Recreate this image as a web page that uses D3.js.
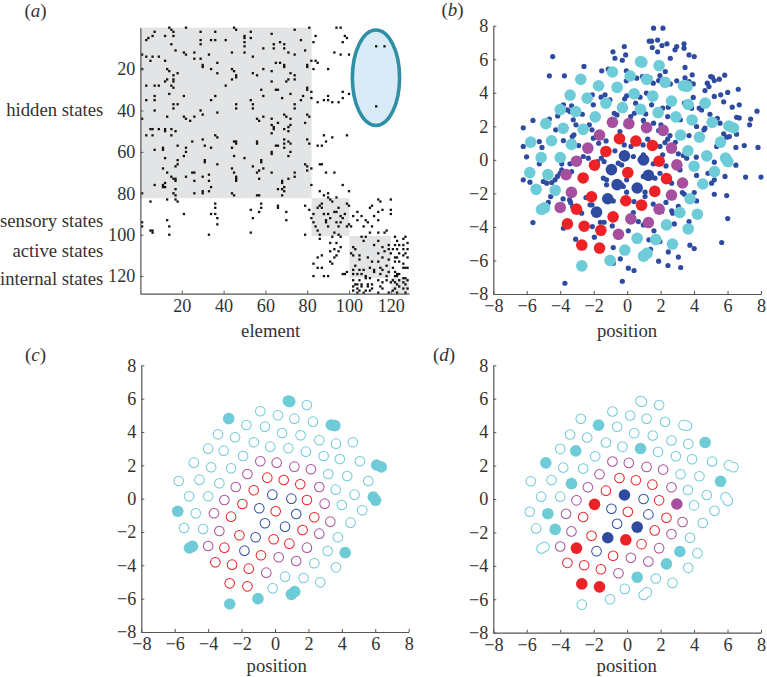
<!DOCTYPE html>
<html><head><meta charset="utf-8">
<script src="https://cdn.jsdelivr.net/npm/d3@7"></script>
<style>html,body{margin:0;padding:0;background:#fff}svg{display:block}text{font-family:"Liberation Serif",serif;fill:#333}</style>
</head><body><div id="c"></div>
<script>
const ticksA=[20,40,60,80,100,120];
const ticksP=[-8,-6,-4,-2,0,2,4,6,8];
const blockLabels=[["hidden states",110],["sensory states",221],["active states",251],["internal states",279.5]];
const blocks=[[0,82.1,0,82.4],[82.1,100.2,82.4,100.6],[100.2,120,100.6,120.8],[120,128.7,120.8,128.5]];
const ellipseBlanket={col:112.9,row:24.2,rc:11.3,rr:23.05};
const coupling=[[14,0],[22,0],[45,0],[46,1],[81,0],[94,0],[96,0],[7,2],[15,1],[16,2],[29,2],[36,2],[53,2],[74,1],[12,4],[16,4],[6,4],[4,5],[3,6],[50,4],[53,5],[50,5],[63,3],[84,4],[98,4],[99,5],[29,6],[34,6],[36,6],[41,6],[50,7],[67,7],[77,6],[83,7],[97,7],[15,8],[29,8],[64,8],[50,9],[69,8],[17,11],[44,12],[21,12],[22,13],[26,12],[29,15],[33,13],[50,12],[54,14],[59,10],[64,10],[69,10],[71,12],[74,13],[79,11],[93,12],[96,13],[100,13],[1,13],[3,14],[5,16],[6,14],[9,14],[12,16],[26,15],[30,18],[30,19],[37,17],[34,20],[37,22],[44,20],[45,21],[46,23],[46,24],[44,25],[41,28],[65,17],[67,17],[69,18],[69,19],[63,21],[59,20],[54,22],[56,23],[72,22],[74,23],[74,25],[71,25],[70,26],[63,26],[58,30],[65,30],[66,30],[59,33],[68,34],[72,32],[80,29],[80,30],[78,33],[77,35],[80,19],[80,18],[82,16],[84,16],[85,17],[83,20],[90,20],[1,20],[13,20],[14,21],[16,23],[18,22],[16,25],[13,25],[12,26],[16,26],[15,28],[16,29],[3,28],[7,28],[9,28],[14,32],[21,33],[3,35],[7,33],[7,35],[18,37],[16,37],[16,39],[7,40],[36,33],[34,35],[46,37],[46,39],[53,35],[54,37],[54,39],[74,37],[74,39],[82,31],[82,34],[85,36],[88,35],[90,33],[90,35],[92,36],[95,36],[97,31],[97,34],[100,32],[1,44],[13,43],[21,43],[22,44],[24,45],[26,43],[29,40],[30,42],[37,41],[56,44],[57,45],[59,43],[63,44],[69,42],[70,43],[72,44],[80,42],[81,43],[79,46],[66,46],[63,47],[64,48],[64,49],[72,47],[71,48],[71,50],[63,51],[69,49],[5,49],[6,49],[9,49],[12,49],[12,50],[15,49],[17,50],[3,52],[6,52],[15,52],[36,52],[37,53],[25,55],[30,54],[31,57],[34,58],[45,55],[46,55],[46,56],[44,58],[56,55],[56,56],[65,57],[66,57],[69,54],[69,56],[71,55],[69,58],[72,56],[80,54],[81,56],[88,52],[92,53],[99,52],[85,57],[87,57],[89,55],[7,59],[11,58],[11,59],[18,57],[22,58],[22,60],[21,62],[12,63],[63,60],[63,61],[72,60],[71,62],[45,62],[31,64],[31,65],[50,63],[58,64],[58,65],[54,67],[37,66],[18,64],[18,66],[17,67],[11,68],[13,70],[15,72],[16,73],[17,73],[17,74],[12,75],[11,76],[12,77],[11,77],[7,76],[17,78],[16,80],[17,81],[26,70],[25,70],[22,72],[26,74],[30,72],[33,71],[33,74],[44,68],[45,70],[46,72],[46,73],[46,74],[57,69],[56,70],[59,68],[57,73],[63,70],[74,70],[74,72],[71,73],[68,74],[68,75],[69,77],[68,78],[66,78],[69,79],[68,81],[80,67],[79,66],[82,68],[80,69],[26,80],[30,79],[30,80],[33,79],[34,77],[44,80],[45,81],[56,81],[57,81],[82,76],[86,66],[87,66],[89,70],[93,70],[97,76],[100,79],[86,79],[90,80],[88,81],[1,80],[5,84],[13,83],[17,83],[18,84],[21,90],[34,90],[36,85],[36,87],[36,90],[37,92],[37,95],[13,93],[14,96],[14,100],[6,98],[6,99],[5,98],[1,94],[1,96],[33,100],[53,88],[54,92],[53,99],[57,89],[58,87],[58,85],[66,86],[66,87],[70,89],[70,93],[79,86],[79,100],[81,88],[83,90],[82,92],[83,94],[84,96],[85,98],[86,100],[86,86],[85,87],[87,85],[87,87],[88,90],[89,93],[89,94],[91,83],[92,84],[93,89],[94,89],[90,90],[91,92],[94,94],[95,96],[90,96],[95,87],[96,91],[97,92],[96,94],[98,90],[99,85],[100,86],[94,82],[90,82],[99,96],[100,95],[101,96],[95,100],[93,99],[92,101],[96,101],[86,102],[91,104],[94,104],[93,107],[96,106],[95,108],[91,108],[94,110],[93,111],[91,113],[92,114],[87,110],[85,111],[83,114],[85,116],[87,116],[83,120],[88,120],[90,120],[97,119],[98,119],[99,118],[104,89],[102,91],[104,93],[106,91],[108,93],[110,87],[111,86],[114,83],[115,84],[114,89],[116,88],[112,91],[114,93],[120,83],[120,88],[120,90],[107,96],[109,94],[111,96],[118,98],[117,99],[114,99],[110,99],[102,106],[103,107],[101,109],[106,101],[108,101],[107,103],[112,105],[114,103],[102,110],[105,110],[105,112],[109,111],[111,113],[114,109],[116,106],[117,108],[116,111],[114,113],[119,105],[119,107],[120,109],[119,112],[118,115],[115,116],[112,117],[110,116],[107,117],[105,117],[103,115],[102,117],[102,119],[104,119],[106,119],[108,120],[112,118],[115,119],[116,117],[119,118],[122,101],[123,103],[124,105],[126,105],[127,101],[126,102],[128,104],[122,105],[123,107],[126,107],[128,107],[121,107],[124,109],[126,110],[127,109],[122,111],[123,111],[128,111],[122,113],[124,113],[126,114],[127,116],[128,116],[121,116],[122,118],[123,119],[124,119],[126,116],[122,120],[123,120],[121,122],[122,123],[124,122],[126,121],[127,121],[128,122],[126,123],[127,124],[123,124],[124,125],[122,126],[126,126],[128,126],[121,127],[123,128],[127,128],[102,122],[105,122],[108,121],[110,121],[114,122],[118,122],[116,123],[103,124],[104,124],[106,124],[109,124],[111,124],[102,125],[104,126],[106,125],[109,125],[111,126],[115,125],[116,126],[102,127],[104,128],[107,128],[110,127],[114,128],[119,128],[105,127],[108,127],[118,120],[120,123],[113,9],[117,9],[113,38]];
const hiddenStates=[[1.58,7.85],[2.14,7.85],[1.46,7.08],[1.82,7.14],[1.32,7.08],[2.08,6.82],[2.38,6.92],[1.50,6.70],[1.82,6.44],[2.96,6.76],[2.86,6.56],[3.40,6.92],[3.40,6.66],[3.70,6.26],[4.01,6.16],[2.58,6.06],[-0.17,6.76],[-0.85,6.44],[-0.09,6.26],[-0.73,6.06],[-0.29,5.94],[-4.45,6.16],[-2.58,5.57],[-4.65,5.01],[-3.75,5.01],[-1.52,5.31],[-1.13,5.41],[-0.05,5.31],[0.11,5.17],[3.46,5.51],[3.89,5.07],[2.28,5.27],[4.99,4.97],[5.09,4.93],[5.21,4.73],[5.51,4.81],[5.83,5.05],[4.79,4.57],[4.89,4.37],[4.65,4.13],[5.21,3.78],[5.59,3.88],[6.01,4.02],[6.64,4.21],[5.77,3.46],[6.28,3.14],[6.70,3.28],[7.76,2.90],[7.38,2.43],[7.32,2.09],[6.54,2.54],[6.70,2.50],[4.95,2.72],[5.39,2.48],[5.15,2.29],[5.55,2.19],[4.65,1.89],[4.59,1.79],[-6.21,1.91],[-5.63,2.35],[-4.65,2.43],[-4.27,1.79],[-4.15,2.62],[-3.81,3.28],[-3.32,3.22],[-3.22,2.39],[-3.06,2.09],[-2.68,2.72],[-2.10,1.79],[-2.02,3.28],[-2.08,3.88],[-1.56,3.74],[-1.32,3.88],[-0.05,4.71],[0.57,4.87],[0.91,4.97],[1.36,4.87],[1.96,5.03],[1.88,4.73],[1.56,4.57],[2.58,4.53],[2.96,4.71],[3.46,4.89],[3.95,4.53],[3.70,4.67],[-1.03,3.58],[-0.03,3.82],[-0.15,3.64],[1.15,3.98],[0.77,3.74],[0.51,3.38],[1.46,3.28],[2.12,3.08],[2.46,3.14],[3.95,3.72],[4.31,3.08],[4.45,2.98],[3.85,3.08],[3.42,3.38],[-3.42,2.88],[-3.58,2.98],[-0.77,2.78],[-0.61,2.68],[0.21,2.58],[0.43,2.78],[1.11,2.74],[0.97,2.35],[1.58,2.19],[2.02,2.09],[2.42,2.58],[3.18,2.39],[4.15,1.99],[-2.26,2.09],[-3.28,1.39],[-3.81,1.15],[-2.02,1.29],[-1.70,0.99],[-1.26,1.13],[-0.43,1.69],[-0.17,0.89],[0.23,0.80],[1.23,1.23],[0.95,0.89],[1.88,1.75],[2.56,1.45],[2.42,1.23],[2.26,1.03],[2.88,1.05],[1.96,0.80],[1.46,0.70],[3.70,1.45],[5.77,1.55],[5.95,1.35],[6.11,1.39],[6.54,1.53],[5.35,0.80],[6.50,0.74],[7.00,0.85],[7.82,0.74],[-6.21,0.80],[-5.09,0.74],[-5.25,1.09],[-2.90,0.85],[-3.18,1.49],[-6.01,0.18],[-5.25,-0.24],[-3.91,-0.24],[-2.62,0.20],[-2.32,0.10],[-1.78,-0.10],[-1.54,0.10],[-1.38,-0.10],[-3.42,-0.24],[-0.73,0.54],[-0.53,-0.20],[-0.33,-0.30],[0.37,0.20],[0.77,0],[0.97,0.30],[2.32,-0.36],[3.06,0.36],[3.36,0.26],[3.56,0.10],[4.13,0.16],[5.21,-0.14],[6.50,-0.32],[2.12,0.30],[1.56,-0.24],[-6.21,-1.19],[-5.81,-1.33],[-5.01,-1.29],[-4.81,-1.39],[-4.51,-1.35],[-4.31,-1.19],[-4.17,-0.99],[-4.01,-0.80],[-3.91,-0.60],[-3.32,-0.70],[-1.42,-1.09],[-1.23,-1.19],[-1.23,-1.49],[-0.23,-1.59],[-0.03,-1.19],[-0.33,-1.49],[0.97,-0.99],[1.66,-1.09],[1.96,-0.80],[3.16,-0.60],[4.15,-0.93],[4.83,-0.80],[5.21,-1.19],[5.05,-1.39],[5.85,-0.99],[7.08,-1.03],[8.0,-1.03],[-4.57,-2.19],[-3.83,-2.33],[-4.71,-2.54],[-3.44,-2.39],[-3.38,-2.54],[-2.46,-2.25],[-2.22,-2.68],[-2.10,-2.68],[-0.83,-2.45],[-0.03,-1.93],[1.07,-1.93],[1.07,-2.19],[0.01,-2.39],[0.41,-2.49],[2.32,-2.54],[2.66,-1.39],[3.30,-1.95],[3.42,-2.05],[4.01,-1.95],[4.15,-2.45],[5.21,-2.05],[5.95,-2.13],[1.56,-2.64],[-5.63,-3.74],[-3.26,-2.78],[-2.72,-3.18],[-1.60,-3.72],[-1.38,-3.72],[0.37,-3.14],[2.66,-3.04],[2.72,-3.18],[3.06,-2.78],[2.06,-3.08],[2.82,-3.82],[3.70,-3.68],[6.01,-3.50],[-3.81,-4.08],[-2.08,-3.98],[-1.96,-4.61],[-0.89,-3.94],[0.07,-4.23],[0.67,-3.68],[0.97,-3.88],[1.60,-4.23],[-3.08,-4.73],[1.30,-4.77],[1.96,-4.87],[3.75,-5.09],[4.01,-5.29],[5.65,-4.93],[-0.83,-5.23],[-0.41,-5.90],[1.40,-5.33],[1.88,-6.04],[2.46,-5.49],[2.44,-6.30],[3.06,-5.80],[3.20,-6.42],[0.07,-6.46],[0.41,-6.60],[-0.29,-7.24],[-3.72,-7.36],[-0.83,-6.16]];
// third field: the panel in which the element is drawn solid ("c", "d" or "")
const cyanStates=[[0.8,5.86,"c"],[0.88,5.82,"c"],[1.91,5.62,""],[-0.88,5.24,""],[0.18,5.0,""],[1.16,4.8,""],[2.27,4.62,""],[-2.77,4.8,"c"],[-1.71,4.42,"d"],[-0.6,4.32,""],[3.37,4.42,"c"],[3.58,4.38,"c"],[-3.41,3.86,""],[-2.39,3.68,""],[-1.27,3.38,""],[0.42,3.94,""],[1.53,3.8,""],[2.65,3.5,""],[4.66,3.38,"d"],[3.65,3.3,""],[-4.0,3.0,""],[-3.07,2.88,"d"],[-0.28,3.12,""],[0.8,3.02,"d"],[1.85,2.82,""],[-1.91,2.56,""],[2.91,2.56,""],[3.88,2.38,""],[5.08,2.24,""],[-4.86,2.16,"d"],[-3.82,1.88,""],[-2.63,1.82,""],[6.08,2.02,"c"],[6.36,1.9,"c"],[3.19,1.48,""],[4.32,1.36,""],[-5.76,1.06,""],[-4.52,1.14,""],[-3.33,0.92,"d"],[5.58,1.06,"d"],[3.63,0.54,""],[-5.14,0.14,""],[-4.0,0.14,""],[4.76,0.24,""],[5.88,0.1,"c"],[6.02,-0.1,"c"],[4.0,-0.38,""],[-5.82,-0.76,"c"],[-4.74,-0.88,"d"],[5.22,-0.7,""],[4.52,-1.44,""],[-5.44,-1.76,""],[-4.3,-1.82,"d"],[3.76,-2.32,""],[-5.12,-2.96,"c"],[-4.94,-2.86,"c"],[3.15,-3.14,"d"],[4.2,-3.24,"c"],[2.35,-3.88,"d"],[3.65,-4.12,""],[0.6,-4.68,"d"],[1.71,-4.76,""],[2.71,-5.02,""],[-0.14,-5.38,""],[0.98,-5.74,"c"],[1.18,-5.58,"c"],[-1.02,-6.0,"c"],[-2.71,-6.32,"c"]];
const purpleStates=[[-0.88,2.24,""],[0.1,2.16,""],[1.16,1.92,""],[2.15,1.76,""],[-1.65,1.48,""],[-2.35,0.7,""],[2.65,0.7,""],[-3.03,-0.08,""],[2.97,-0.3,"d"],[-3.65,-0.88,""],[3.31,-1.38,""],[-3.33,-1.94,""],[2.65,-2.1,""],[-4.0,-2.84,""],[1.91,-2.94,""],[0.22,-3.52,""],[1.27,-3.74,""],[-0.52,-4.44,""]];
const redStates=[[-0.46,1.26,""],[0.52,1.12,""],[1.51,0.86,""],[-1.27,0.5,""],[1.91,-0.08,""],[-1.95,-0.32,"d"],[0.04,-0.76,""],[-2.63,-1.08,""],[2.35,-1.12,""],[1.65,-1.88,""],[-2.13,-2.2,""],[-0.08,-2.44,"d"],[0.86,-2.7,""],[-3.03,-2.94,"d"],[-0.84,-3.4,""],[-3.57,-3.82,""],[-2.57,-3.96,""],[-1.57,-4.2,""],[-2.71,-5.08,"d"],[-1.65,-5.26,"d"]];
const blueStates=[[-0.16,0.24,"d"],[0.98,0,""],[-0.94,-0.58,""],[1.27,-0.92,""],[-0.6,-1.48,""],[0.6,-1.68,"d"],[-1.16,-2.32,"d"],[-1.83,-3.12,""]];
const groups=[[cyanStates,"#6ecbd8"],[purpleStates,"#a64f9e"],[redStates,"#ec2227"],[blueStates,"#2f4b9f"]];

const svg=d3.select("#c").append("svg").attr("width",767).attr("height",677);
const AX="#555";
function styleAxis(g){
  g.selectAll("path.domain").attr("stroke",AX).attr("stroke-width",1.2).attr("fill","none");
  g.selectAll(".tick line").attr("stroke",AX).attr("stroke-width",1);
  g.selectAll("text").attr("font-size",18.2).attr("font-family","Liberation Serif").attr("fill","#333");
}
function axes(x,y,xt,yt,left,bottom){
  const gx=svg.append("g").attr("transform",`translate(0,${bottom})`).call(d3.axisBottom(x).tickValues(xt).tickSizeInner(-3).tickSizeOuter(0).tickPadding(5));
  const gy=svg.append("g").attr("transform",`translate(${left},0)`).call(d3.axisLeft(y).tickValues(yt).tickSizeInner(-3).tickSizeOuter(0).tickPadding(5));
  styleAxis(gx);styleAxis(gy);
}
function label(x,y,t,a,size){return svg.append("text").attr("x",x).attr("y",y).attr("text-anchor",a||"middle").attr("font-size",size||18.7).text(t);}
function panelTag(x,y,l){const t=svg.append("text").attr("x",x).attr("y",y).attr("font-size",19);t.append("tspan").text("(");t.append("tspan").attr("font-style","italic").text(l);t.append("tspan").text(")");}

// panel a
const ax=d3.scaleLinear().domain([0,128.7]).range([140,409]);
const ay=d3.scaleLinear().domain([0,128.5]).range([27.67,293.7]);
svg.append("g").selectAll("rect").data(blocks).join("rect")
  .attr("x",d=>ax(d[0])).attr("width",d=>ax(d[1])-ax(d[0])).attr("y",d=>ay(d[2])).attr("height",d=>ay(d[3])-ay(d[2])).attr("fill","#e2e4e5");
svg.append("ellipse").attr("cx",ax(ellipseBlanket.col)).attr("cy",ay(ellipseBlanket.row))
  .attr("rx",ax(ellipseBlanket.rc)-ax(0)).attr("ry",ay(ellipseBlanket.rr)-ay(0))
  .attr("fill","#d9ebf7").attr("stroke","#2f8fa4").attr("stroke-width",3.6);
svg.append("g").selectAll("rect").data(coupling).join("rect")
  .attr("x",d=>ax(d[0])-1.15).attr("y",d=>ay(d[1])-1.15).attr("width",2.3).attr("height",2.3).attr("fill","#111");
axes(ax,ay,ticksA,ticksA,140.4,293.7);
blockLabels.forEach(d=>label(103.3,d[1]+5.7,d[0],"end"));
label(270.7,336.5,"element");
panelTag(24.5,17,"a");

function lattice(x,y,key){
  const open=groups.flatMap(([pts,col])=>pts.filter(d=>key!=="b"&&!d[2].includes(key)).map(d=>({d,col})));
  const solid=groups.flatMap(([pts,col])=>pts.filter(d=>key==="b"||d[2].includes(key)).map(d=>({d,col})));
  const g=svg.append("g");
  // rings first, then their white interiors, so that twin elements read as one outline
  g.selectAll("circle.ring").data(open).join("circle").attr("class","ring")
    .attr("cx",e=>x(e.d[0])).attr("cy",e=>y(e.d[1])).attr("r",5.3).attr("fill",e=>e.col);
  g.selectAll("circle.hole").data(open).join("circle").attr("class","hole")
    .attr("cx",e=>x(e.d[0])).attr("cy",e=>y(e.d[1])).attr("r",4.3).attr("fill","#fff");
  g.selectAll("circle.solid").data(solid).join("circle").attr("class","solid")
    .attr("cx",e=>x(e.d[0])).attr("cy",e=>y(e.d[1])).attr("r",5.8).attr("fill",e=>e.col);
}
// panel b
const bx=d3.scaleLinear().domain([-8,8]).range([493.3,761]);
const by=d3.scaleLinear().domain([-8,8]).range([294,25.7]);
svg.append("g").selectAll("circle").data(hiddenStates).join("circle")
  .attr("cx",d=>bx(d[0])).attr("cy",d=>by(d[1])).attr("r",2.6).attr("fill","#2f4b9f");
lattice(bx,by,"b");
axes(bx,by,ticksP,ticksP,493.3,294);
label(627,336.5,"position");
panelTag(441.5,16,"b");
// panel c
const cx=d3.scaleLinear().domain([-8,8]).range([141.3,408.7]);
const cy=d3.scaleLinear().domain([-8,8]).range([632,365.3]);
lattice(cx,cy,"c");
axes(cx,cy,ticksP,ticksP,141.3,632);
label(276.7,672,"position");
panelTag(25,361,"c");
// panel d
const dx=d3.scaleLinear().domain([-8,8]).range([493.3,761]);
const dy=d3.scaleLinear().domain([-8,8]).range([632.7,365.3]);
lattice(dx,dy,"d");
axes(dx,dy,ticksP,ticksP,493.3,632.7);
label(626.7,672,"position");
panelTag(433,361,"d");
</script></body></html>
